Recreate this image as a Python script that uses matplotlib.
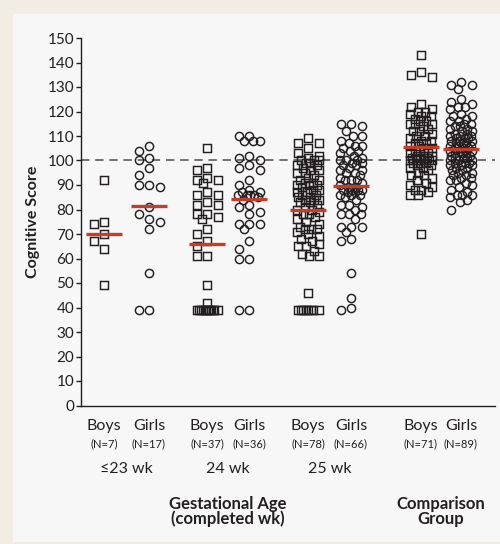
import numpy as np
import matplotlib
matplotlib.use("Agg")
import matplotlib.pyplot as plt
from matplotlib.patches import Rectangle
from matplotlib.transforms import blended_transform_factory

plt.rcParams['font.family'] = ['Lato', 'DejaVu Sans']

# ---------------- data (cognitive scores) ----------------
boys_23 = [92, 75, 74, 70, 67, 64, 49]
girls_23 = [106, 104, 101, 100, 97, 94, 90, 90, 89, 81, 78, 76, 75, 72, 54, 39, 39]
boys_24 = [105, 97, 96, 93, 92, 92, 91, 87, 86, 86, 83, 82, 82, 78, 78, 77, 76,
           72, 70, 67, 65, 61, 61, 49, 42,
           39, 39, 39, 39, 39, 39, 39, 39, 39, 39, 39, 39]
girls_24 = [110, 110, 108, 108, 108, 102, 101, 100, 98, 97, 96, 92, 90, 88, 87, 87,
            86, 86, 86, 86, 85, 84, 82, 81, 79, 78, 74, 74, 74, 72, 67, 64, 60, 60,
            39, 39]
boys_25 = [109, 107, 107, 105, 103, 102, 101, 100, 100, 100,
           99, 99, 98, 98, 97, 96, 95, 95, 94, 93,
           92, 92, 91, 91, 90, 90, 89, 88, 88, 87,
           87, 86, 86, 85, 85, 84, 84, 84, 83, 82,
           81, 80, 80, 79, 78, 78, 77, 76, 75, 74,
           73, 72, 72, 72, 71, 70, 69, 68, 66, 65,
           65, 63, 62, 61, 61, 46, 96, 90, 83, 67,
           39, 39, 39, 39, 39, 39, 39, 39]
girls_25 = [115, 115, 114, 112, 110, 110, 108, 107, 106, 106,
            105, 104, 104, 103, 102, 101, 100, 100, 100, 99,
            99, 98, 98, 97, 96, 96, 95, 95, 94, 93,
            92, 92, 92, 91, 90, 89, 89, 88, 88, 87,
            87, 86, 86, 86, 85, 84, 82, 82, 81, 80,
            78, 78, 78, 76, 73, 73, 73, 71, 68, 67,
            54, 44, 40, 39, 88, 88]
boys_comp = [143, 136, 135, 134, 123, 121, 120, 120, 119, 118,
             117, 116, 115, 115, 114, 113, 112, 111, 110, 110,
             109, 108, 108, 107, 107, 106, 106, 105, 105, 104,
             104, 103, 103, 102, 102, 102, 101, 101, 101, 100,
             100, 100, 100, 100, 99, 99, 99, 98, 98, 97,
             97, 96, 95, 94, 94, 93, 92, 91, 90, 89,
             88, 88, 87, 86, 86, 70, 122, 118, 116, 115, 112]
girls_comp = [132, 131, 131, 129, 125, 124, 123, 122, 122, 121,
              119, 118, 118, 117, 116, 116, 115, 115, 114, 114,
              113, 113, 112, 112, 111, 111, 110, 110, 110, 109,
              109, 109, 108, 108, 108, 107, 107, 107, 106, 106,
              106, 105, 105, 105, 104, 104, 104, 103, 103, 103,
              102, 102, 102, 101, 101, 101, 100, 100, 100, 99,
              99, 99, 98, 98, 98, 97, 97, 96, 96, 95,
              95, 94, 94, 93, 93, 92, 92, 91, 90, 89,
              88, 87, 86, 86, 86, 85, 84, 83, 80]

series = [boys_23, girls_23, boys_24, girls_24, boys_25, girls_25, boys_comp, girls_comp]
sexes = ["Boys", "Girls"] * 4
age_labels = ["\u226423 wk", "24 wk", "25 wk", ""]
yticks = list(range(0, 151, 10))

# ---------------- layout ----------------
W, H = 500, 544
fig = plt.figure(figsize=(W / 100, H / 100), dpi=100)
fig.patch.set_facecolor('#f1ece4')
fig.add_artist(Rectangle((13 / W, 1 - 542 / H), (W - 13) / W, (542 - 14) / H,
                         transform=fig.transFigure, facecolor='#f7f7f7',
                         edgecolor='none', zorder=0))

ax_l, ax_r, ax_t, ax_b = 81, 495, 38, 405.5
ax = fig.add_axes([ax_l / W, 1 - ax_b / H, (ax_r - ax_l) / W, (ax_b - ax_t) / H])
ax.set_facecolor('none')
ax.set_xlim(0, ax_r - ax_l)
ax.set_ylim(0, 150)
ypx = (ax_b - ax_t) / 150.0

centers_px = [104, 149, 207, 249, 308, 351, 421, 461]
centers = [c - ax_l for c in centers_px]


def swarm_offsets(vals, slot=10.5, halfw=11.0, mind=8.0):
    vals = np.asarray(vals, dtype=float)
    order = np.argsort(-vals, kind='stable')
    xs = np.zeros(len(vals))
    placed = []
    fine = np.arange(-halfw, halfw + 1e-9, 0.5)

    def dmin(c, y):
        if not placed:
            return np.inf
        p = np.array(placed)
        return np.min(np.hypot(p[:, 0] - c, p[:, 1] - y))

    for i in order:
        y = vals[i] * ypx
        chosen = None
        for c in (0.0, -slot, slot):
            if dmin(c, y) >= mind:
                chosen = c
                break
        if chosen is None:
            ds = np.array([dmin(c, y) for c in fine])
            chosen = fine[np.argmax(ds - 0.01 * np.abs(fine))]
        xs[i] = chosen
        placed.append((chosen, y))
    return xs


ink = '#231f20'
red = '#c43c2c'
ax.axhline(100, color='#5a5a5a', lw=1.2, dashes=(5, 3.5), zorder=1)

for k, (vals, cx) in enumerate(zip(series, centers)):
    offs = swarm_offsets(vals)
    marker = 's' if k % 2 == 0 else 'o'
    ms = 5.6 if marker == 's' else 5.9
    ax.plot(cx + offs, vals, linestyle='none', marker=marker, ms=ms,
            mfc='none', mec=ink, mew=1.05, zorder=2)
    m = np.mean(vals)
    ax.plot([cx - 18, cx + 18], [m, m], color=red, lw=2.4,
            solid_capstyle='butt', zorder=3)

for s in ('top', 'right'):
    ax.spines[s].set_visible(False)
ax.spines['left'].set_color(ink)
ax.spines['bottom'].set_color(ink)
ax.spines['left'].set_linewidth(1.0)
ax.spines['bottom'].set_linewidth(1.0)
ax.set_xticks([])
ax.set_yticks(yticks)
ax.tick_params(axis='y', direction='out', length=3.6, width=1.0, color=ink,
               labelsize=11, labelcolor=ink, pad=1.2)

fig.text(32.5 / W, 1 - 222 / H, "Cognitive Score", rotation=90, ha='center',
         va='center', fontsize=11.5, fontweight='bold', color=ink)

tr = blended_transform_factory(ax.transData, fig.transFigure)


def fy(py):
    return 1 - py / H


for k, (vals, cx) in enumerate(zip(series, centers)):
    ax.text(cx, fy(426), sexes[k], transform=tr, ha='center', va='center',
            fontsize=11.5, color=ink)
    ax.text(cx, fy(444), "(N=%d)" % len(vals), transform=tr, ha='center',
            va='center', fontsize=8, color=ink)

for j in range(4):
    mid = (centers[2 * j] + centers[2 * j + 1]) / 2
    if age_labels[j]:
        ax.text(mid, fy(469), age_labels[j], transform=tr, ha='center',
                va='center', fontsize=11.5, color=ink)

mid24 = (centers[2] + centers[3]) / 2
midc = (centers[6] + centers[7]) / 2
for (x, l1, l2) in [(mid24, "Gestational Age", "(completed wk)"),
                    (midc, "Comparison", "Group")]:
    ax.text(x, fy(504), l1, transform=tr, ha='center', va='center',
            fontsize=12, fontweight='bold', color=ink)
    ax.text(x, fy(519), l2, transform=tr, ha='center', va='center',
            fontsize=12, fontweight='bold', color=ink)

fig.savefig("out.png", dpi=100, facecolor=fig.get_facecolor())
